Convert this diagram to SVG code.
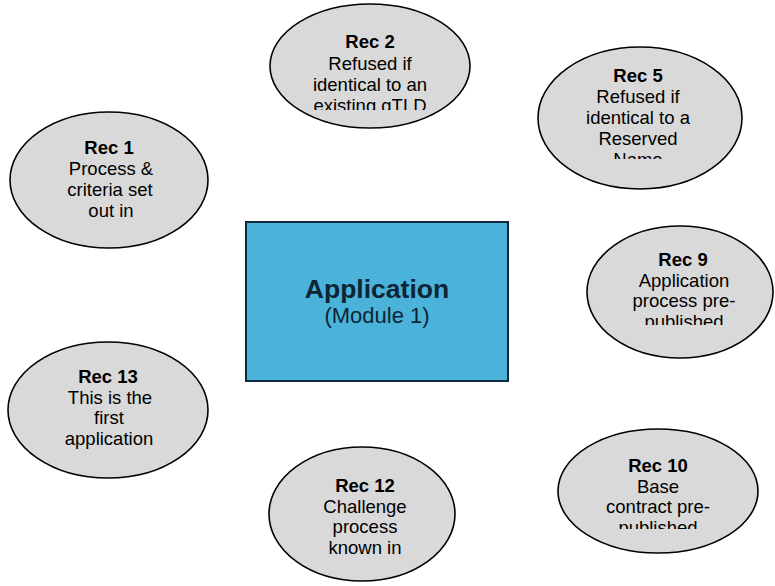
<svg xmlns="http://www.w3.org/2000/svg" width="775" height="586" viewBox="0 0 775 586">
<style>
.rec{fill:#d9d9d9;stroke:#000;stroke-width:1.6}
text{font-family:"Liberation Sans",Arial,sans-serif;font-size:18.5px;fill:#000;text-anchor:middle}
.b{font-weight:bold}
.app{font-size:26.5px;font-weight:bold;fill:#0d2535}
.mod{font-size:22px;fill:#0d2535}
</style>
<defs>
<clipPath id="c2"><rect x="0" y="0" width="775" height="110"/></clipPath>
<clipPath id="c5"><rect x="0" y="0" width="775" height="159"/></clipPath>
<clipPath id="c9"><rect x="0" y="0" width="775" height="325"/></clipPath>
<clipPath id="c10"><rect x="0" y="0" width="775" height="529"/></clipPath>
</defs>
<rect width="775" height="586" fill="#fff"/>
<g id="connectors"/>
<g id="app">
<rect x="246" y="222" width="262" height="159" fill="#4bb3da" stroke="#0e2a3a" stroke-width="2"/>
<text x="377" y="298" class="app">Application</text>
<text x="377" y="323" class="mod">(Module 1)</text>
</g>
<g id="rec2">
<ellipse class="rec" cx="370" cy="66" rx="100" ry="62"/>
<g clip-path="url(#c2)">
<text x="370" y="48" class="b">Rec 2</text>
<text x="370" y="70">Refused if</text>
<text x="370" y="91">identical to an</text>
<text x="370" y="112">existing gTLD</text>
</g>
</g>
<g id="rec5">
<ellipse class="rec" cx="640" cy="118" rx="102" ry="71"/>
<g clip-path="url(#c5)">
<text x="638" y="82" class="b">Rec 5</text>
<text x="638" y="103">Refused if</text>
<text x="638" y="124">identical to a</text>
<text x="638" y="145">Reserved</text>
<text x="638" y="166">Name</text>
</g>
</g>
<g id="rec1">
<ellipse class="rec" cx="109" cy="180" rx="99" ry="68"/>
<text x="109" y="154" class="b">Rec 1</text>
<text x="111" y="175">Process &amp;</text>
<text x="110" y="196">criteria set</text>
<text x="111" y="217">out in</text>
</g>
<g id="rec9">
<ellipse class="rec" cx="680" cy="292" rx="93" ry="66"/>
<g clip-path="url(#c9)">
<text x="683" y="266" class="b">Rec 9</text>
<text x="684" y="287">Application</text>
<text x="684" y="307">process pre-</text>
<text x="684" y="328">published</text>
</g>
</g>
<g id="rec13">
<ellipse class="rec" cx="108" cy="410" rx="100" ry="68"/>
<text x="108" y="383" class="b">Rec 13</text>
<text x="110" y="404">This is the</text>
<text x="109" y="424">first</text>
<text x="109" y="445">application</text>
</g>
<g id="rec12">
<ellipse class="rec" cx="362" cy="514" rx="93" ry="67"/>
<text x="365" y="492" class="b">Rec 12</text>
<text x="365" y="513">Challenge</text>
<text x="365" y="533">process</text>
<text x="365" y="554">known in</text>
</g>
<g id="rec10">
<ellipse class="rec" cx="658" cy="491" rx="100" ry="62"/>
<g clip-path="url(#c10)">
<text x="658" y="472" class="b">Rec 10</text>
<text x="658" y="493">Base</text>
<text x="658" y="513">contract pre-</text>
<text x="658" y="534">published</text>
</g>
</g>
</svg>
